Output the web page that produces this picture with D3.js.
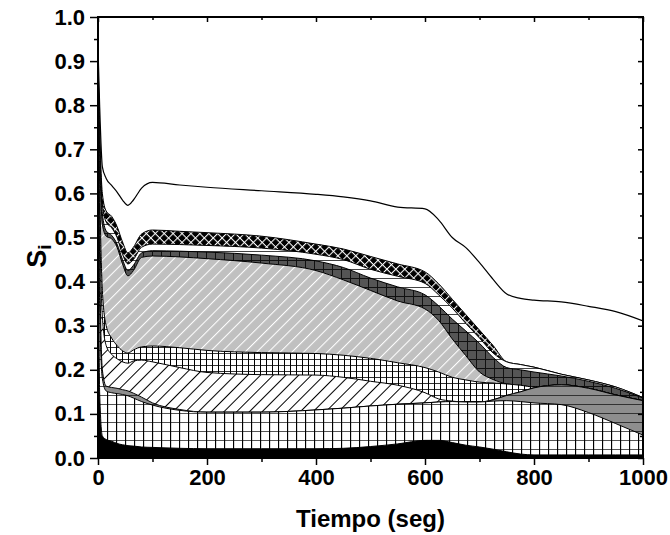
<!DOCTYPE html>
<html><head><meta charset="utf-8">
<script src="https://cdn.jsdelivr.net/npm/d3@7"></script>
<style>
body{margin:0;background:#fff;}
text{font-family:"Liberation Sans",Arial,sans-serif;font-weight:bold;fill:#000;}
</style>
</head><body>
<svg id="chart" width="670" height="535"></svg>
<script>
// Time axis samples (seg)
const time = [0, 3, 8, 15, 25, 35, 45, 55, 65, 80, 100, 150, 200, 300, 400, 450, 500, 550, 600, 625, 650, 675, 700, 725, 750, 775, 800, 850, 900, 950, 1000];
// Cumulative tops of each stacked phase (S_i), bottom to top
const topSolid     = [0.70, 0.15, 0.05, 0.042, 0.038, 0.033, 0.030, 0.028, 0.027, 0.025, 0.024, 0.022, 0.021, 0.021, 0.021, 0.022, 0.026, 0.032, 0.040, 0.040, 0.035, 0.029, 0.025, 0.020, 0.014, 0.009, 0.007, 0.007, 0.007, 0.007, 0.007];
const topCoarseGrid= [0.78, 0.35, 0.18, 0.152, 0.148, 0.146, 0.144, 0.141, 0.136, 0.128, 0.120, 0.108, 0.104, 0.104, 0.109, 0.113, 0.118, 0.122, 0.125, 0.127, 0.128, 0.127, 0.127, 0.129, 0.130, 0.128, 0.125, 0.121, 0.103, 0.078, 0.052];
const topGrayLines = [0.80, 0.45, 0.20, 0.163, 0.160, 0.158, 0.155, 0.152, 0.147, 0.138, 0.125, 0.110, 0.104, 0.104, 0.109, 0.113, 0.118, 0.122, 0.125, 0.127, 0.128, 0.127, 0.127, 0.132, 0.142, 0.150, 0.159, 0.166, 0.158, 0.143, 0.130];
const topHatch     = [0.83, 0.55, 0.32, 0.255, 0.235, 0.225, 0.218, 0.215, 0.220, 0.222, 0.218, 0.205, 0.194, 0.189, 0.188, 0.183, 0.174, 0.165, 0.148, 0.134, 0.129, 0.127, 0.127, 0.132, 0.142, 0.150, 0.159, 0.166, 0.158, 0.143, 0.130];
const topFineGrid  = [0.86, 0.62, 0.38, 0.300, 0.272, 0.255, 0.243, 0.238, 0.245, 0.252, 0.254, 0.250, 0.244, 0.239, 0.237, 0.233, 0.226, 0.216, 0.205, 0.195, 0.183, 0.177, 0.172, 0.170, 0.168, 0.165, 0.161, 0.166, 0.158, 0.143, 0.130];
const topLightGray = [0.88, 0.69, 0.53, 0.503, 0.497, 0.478, 0.440, 0.413, 0.425, 0.455, 0.458, 0.456, 0.452, 0.442, 0.425, 0.404, 0.380, 0.356, 0.338, 0.312, 0.270, 0.232, 0.195, 0.178, 0.168, 0.165, 0.161, 0.166, 0.158, 0.143, 0.130];
const topDarkGrid  = [0.89, 0.71, 0.555, 0.515, 0.505, 0.485, 0.450, 0.425, 0.437, 0.465, 0.470, 0.469, 0.467, 0.460, 0.447, 0.432, 0.408, 0.388, 0.370, 0.345, 0.315, 0.288, 0.260, 0.228, 0.205, 0.200, 0.195, 0.186, 0.174, 0.158, 0.136];
const topWhiteLines= [0.90, 0.73, 0.575, 0.535, 0.522, 0.500, 0.462, 0.440, 0.450, 0.478, 0.485, 0.484, 0.482, 0.476, 0.462, 0.450, 0.428, 0.412, 0.396, 0.370, 0.340, 0.305, 0.272, 0.238, 0.218, 0.212, 0.206, 0.190, 0.177, 0.161, 0.137];
const topCrossX    = [0.91, 0.75, 0.60, 0.560, 0.548, 0.525, 0.490, 0.465, 0.478, 0.508, 0.517, 0.514, 0.511, 0.503, 0.485, 0.474, 0.457, 0.440, 0.422, 0.395, 0.360, 0.325, 0.290, 0.255, 0.218, 0.212, 0.206, 0.190, 0.177, 0.161, 0.137];
const topOuter     = [0.93, 0.80, 0.66, 0.634, 0.618, 0.603, 0.585, 0.573, 0.585, 0.612, 0.625, 0.619, 0.614, 0.606, 0.598, 0.592, 0.583, 0.569, 0.565, 0.540, 0.500, 0.477, 0.443, 0.405, 0.372, 0.362, 0.358, 0.354, 0.344, 0.332, 0.311];

const xMajor = [0, 200, 400, 600, 800, 1000];
const xMinor = [100, 300, 500, 700, 900];
const yMajor = [0, 0.1, 0.2, 0.3, 0.4, 0.5, 0.6, 0.7, 0.8, 0.9, 1.0];
const yMinor = [0.05, 0.15, 0.25, 0.35, 0.45, 0.55, 0.65, 0.75, 0.85, 0.95];

const svg = d3.select('#chart');
const L = 98, R = 643, T = 17, B = 458;
const x = d3.scaleLinear().domain([0, 1000]).range([L, R]);
const y = d3.scaleLinear().domain([0, 1]).range([B, T]);

const defs = svg.append('defs');
function pat(id, size, bg, draw, rot) {
  const p = defs.append('pattern').attr('id', id).attr('patternUnits', 'userSpaceOnUse')
    .attr('width', size).attr('height', size).attr('x', L).attr('y', T);
  if (rot) p.attr('patternTransform', 'rotate(' + rot + ')');
  p.append('rect').attr('width', size).attr('height', size).attr('fill', bg);
  draw(p, size);
}
const vline = (p, s, c, w) => p.append('line').attr('x1', 0.5).attr('x2', 0.5).attr('y1', 0).attr('y2', s).attr('stroke', c).attr('stroke-width', w);
const hline = (p, s, c, w) => p.append('line').attr('y1', 0.5).attr('y2', 0.5).attr('x1', 0).attr('x2', s).attr('stroke', c).attr('stroke-width', w);

pat('pCoarse', 9, '#fff', (p, s) => { hline(p, s, '#555', 1); vline(p, s, '#000', 1.3); });
pat('pGray', 9, '#8e8e8e', (p, s) => { hline(p, s, '#333', 1); });
pat('pHatch', 9, '#fff', (p, s) => { vline(p, s, '#000', 1); }, 45);
pat('pFine', 6, '#fff', (p, s) => { hline(p, s, '#333', 1); vline(p, s, '#000', 1); });
pat('pLight', 8.3, '#c0c0c0', (p, s) => { vline(p, s, '#fff', 1.1); }, 45);
pat('pDark', 9, '#555', (p, s) => { hline(p, s, '#111', 1); vline(p, s, '#111', 1); });
pat('pWhite', 9, '#fff', (p, s) => { hline(p, s, '#444', 1); });
pat('pCross', 6.3, '#000', (p, s) => { hline(p, s, '#fff', 1.1); vline(p, s, '#fff', 1.1); }, 45);

svg.append('clipPath').attr('id', 'clip').append('rect')
  .attr('x', L).attr('y', T).attr('width', R - L).attr('height', B - T);

const layers = [
  { vals: topOuter, fill: '#fff', sw: 1.2 },
  { vals: topCrossX, fill: 'url(#pCross)', sw: 1 },
  { vals: topWhiteLines, fill: 'url(#pWhite)', sw: 1 },
  { vals: topDarkGrid, fill: 'url(#pDark)', sw: 1 },
  { vals: topLightGray, fill: 'url(#pLight)', sw: 1 },
  { vals: topFineGrid, fill: 'url(#pFine)', sw: 1 },
  { vals: topHatch, fill: 'url(#pHatch)', sw: 1 },
  { vals: topGrayLines, fill: 'url(#pGray)', sw: 1 },
  { vals: topCoarseGrid, fill: 'url(#pCoarse)', sw: 1 },
  { vals: topSolid, fill: '#000', sw: 1 }
];

const g = svg.append('g').attr('clip-path', 'url(#clip)');
const curve = d3.curveMonotoneX;
const area = d3.area().x((d, i) => x(time[i])).y0(y(0)).y1(d => y(d)).curve(curve);
const line = d3.line().x((d, i) => x(time[i])).y(d => y(d)).curve(curve);
layers.forEach(l => {
  g.append('path').datum(l.vals).attr('d', area).attr('fill', l.fill).attr('stroke', 'none');
  g.append('path').datum(l.vals).attr('d', line).attr('fill', 'none').attr('stroke', '#000').attr('stroke-width', l.sw);
});

// Axes
function styleAxis(sel) {
  sel.select('.domain').remove();
  sel.selectAll('line').attr('stroke', '#000').attr('stroke-width', 1.5);
  sel.selectAll('text').style('font-size', '22px').style('font-weight', 'bold').attr('fill', '#000');
}
svg.append('g').attr('transform', `translate(0,${B})`)
  .call(d3.axisBottom(x).tickValues(xMajor).tickSize(7).tickPadding(4).tickFormat(d3.format('d'))).call(styleAxis);
svg.append('g').attr('transform', `translate(0,${B})`)
  .call(d3.axisBottom(x).tickValues(xMinor).tickSize(4).tickFormat('')).call(styleAxis);
svg.append('g').attr('transform', `translate(${L},0)`)
  .call(d3.axisLeft(y).tickValues(yMajor).tickSize(8).tickPadding(5).tickFormat(d3.format('.1f'))).call(styleAxis);
svg.append('g').attr('transform', `translate(${L},0)`)
  .call(d3.axisLeft(y).tickValues(yMinor).tickSize(4).tickFormat('')).call(styleAxis);
svg.append('g').attr('transform', `translate(0,${T})`)
  .call(d3.axisTop(x).tickValues(xMajor).tickSize(-5).tickFormat('')).call(styleAxis);
svg.append('g').attr('transform', `translate(0,${T})`)
  .call(d3.axisTop(x).tickValues(xMinor).tickSize(-3).tickFormat('')).call(styleAxis);
svg.append('g').attr('transform', `translate(${R},0)`)
  .call(d3.axisRight(y).tickValues(yMajor).tickSize(-5).tickFormat('')).call(styleAxis);
svg.append('g').attr('transform', `translate(${R},0)`)
  .call(d3.axisRight(y).tickValues(yMinor).tickSize(-3).tickFormat('')).call(styleAxis);

svg.append('rect').attr('x', L).attr('y', T).attr('width', R - L).attr('height', B - T)
  .attr('fill', 'none').attr('stroke', '#000').attr('stroke-width', 2);

svg.append('text').attr('x', (L + R) / 2).attr('y', 527).attr('text-anchor', 'middle')
  .style('font-size', '24px').text('Tiempo (seg)');

const yt = svg.append('text').attr('transform', `translate(46,256) rotate(-90)`)
  .attr('text-anchor', 'middle').style('font-size', '27px');
yt.append('tspan').text('S');
yt.append('tspan').attr('dy', 5).style('font-size', '19px').text('i');
</script>
</body></html>
